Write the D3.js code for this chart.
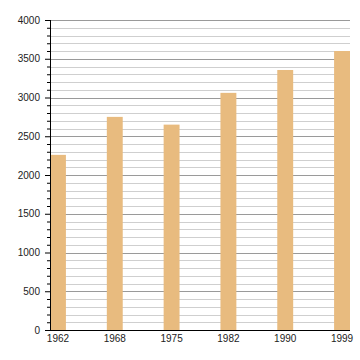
<!DOCTYPE html>
<html>
<head>
<meta charset="utf-8">
<script src="https://cdn.jsdelivr.net/npm/d3@7"></script>
<style>
  body { margin: 0; background: #fff; }
  svg { display: block; font-family: "Liberation Sans", Arial, sans-serif; }
</style>
</head>
<body>
<svg id="chart" width="360" height="360"></svg>
<script>
const years = ["1962", "1968", "1975", "1982", "1990", "1999"];
const population = [2260, 2750, 2650, 3060, 3355, 3600];
const yTicks = [0, 500, 1000, 1500, 2000, 2500, 3000, 3500, 4000];

const svg = d3.select("#chart");
const margin = {top: 20, right: 10, bottom: 30, left: 50};
const width = 360 - margin.left - margin.right;
const height = 360 - margin.top - margin.bottom;

const g = svg.append("g")
  .attr("transform", "translate(" + margin.left + "," + margin.top + ")");

const x = d3.scaleBand().domain(years).range([0, width])
  .paddingInner(0.72).paddingOuter(0);
const y = d3.scaleLinear().domain([0, 4000]).range([height, 0]);

// minor grid every 100, major every 500
const minor = d3.range(100, 4001, 100).filter(d => d % 500 !== 0);
g.selectAll(".minor")
  .data(minor)
  .enter().append("line")
    .attr("x1", 0).attr("x2", width)
    .attr("y1", d => Math.round(y(d)) + 0.5).attr("y2", d => Math.round(y(d)) + 0.5)
    .attr("stroke", "#cfcfcf").attr("stroke-width", 1);

g.selectAll(".major")
  .data(yTicks.filter(d => d > 0))
  .enter().append("line")
    .attr("x1", 0).attr("x2", width)
    .attr("y1", d => Math.round(y(d)) + 0.5).attr("y2", d => Math.round(y(d)) + 0.5)
    .attr("stroke", "#9a9a9a").attr("stroke-width", 1);

g.selectAll(".bar")
  .data(years)
  .enter().append("rect")
    .attr("x", d => x(d))
    .attr("y", (d, i) => y(population[i]))
    .attr("width", x.bandwidth())
    .attr("height", (d, i) => height - y(population[i]))
    .attr("fill", "#e8bb7f");

// y axis: minor ticks then major ticks with labels
const yMinorAxis = g.append("g")
  .call(d3.axisLeft(y).tickValues(minor).tickSize(3).tickFormat(""));
yMinorAxis.select(".domain").remove();

const yAxis = g.append("g")
  .call(d3.axisLeft(y).tickValues(yTicks).tickSize(5).tickPadding(5).tickFormat(d3.format("d")));
yAxis.selectAll("text").attr("font-size", 10).attr("fill", "#222");
yAxis.select(".domain").attr("d", "M0.5,0V" + height);

const xAxis = g.append("g")
  .attr("transform", "translate(0," + height + ")")
  .call(d3.axisBottom(x).tickSize(0).tickPadding(5));
xAxis.selectAll("text").attr("font-size", 10).attr("fill", "#222");
xAxis.select(".domain").attr("d", "M0,0.5H" + width);
</script>
</body>
</html>
